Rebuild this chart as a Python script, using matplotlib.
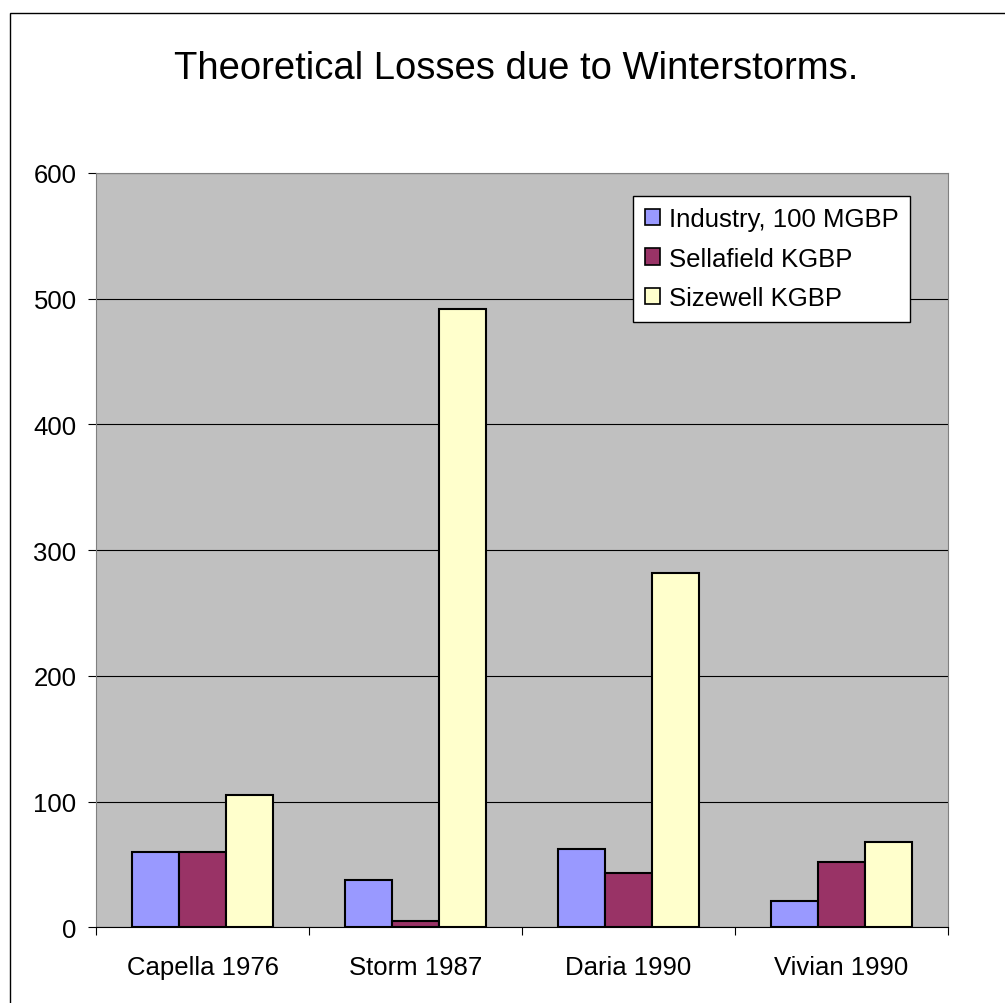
import matplotlib
matplotlib.use("Agg")
import matplotlib.pyplot as plt
from matplotlib.patches import Patch, Rectangle
import numpy as np

plt.rcParams['font.family'] = ['Liberation Sans', 'DejaVu Sans']

storms = ["Capella 1976", "Storm 1987", "Daria 1990", "Vivian 1990"]
industry = [60, 38, 62, 21]
sellafield = [60, 5, 43, 52]
sizewell = [105, 492, 282, 68]
series_names = ["Industry, 100 MGBP", "Sellafield KGBP", "Sizewell KGBP"]
series_colors = ["#9999FF", "#993366", "#FFFFCC"]
y_ticks = [0, 100, 200, 300, 400, 500, 600]

fig = plt.figure(figsize=(10.05, 10.04), dpi=100)
fig.patch.set_facecolor("white")

# outer chart frame, only top and left edges fall inside the image
fig.patches.append(Rectangle((10 / 1005, -0.1), 1.2, 1 - 14 / 1004 + 0.1,
                             transform=fig.transFigure, fill=False,
                             edgecolor="black", linewidth=1.0))

ax = fig.add_axes([96 / 1005, 1 - 928.3 / 1004, (948 - 96) / 1005, (928.3 - 174) / 1004])
ax.set_facecolor("#C0C0C0")

x = np.arange(len(storms))
w = 0.222
for i, (vals, col) in enumerate(zip([industry, sellafield, sizewell], series_colors)):
    ax.bar(x + (i - 1) * w, vals, width=w, color=col, edgecolor="black",
           linewidth=1.5, zorder=3)

ax.set_xlim(-0.5, len(storms) - 0.5)
ax.set_ylim(0, 600)
ax.set_yticks(y_ticks)
ax.yaxis.grid(True, color="black", linewidth=0.8, zorder=1)
ax.set_axisbelow(True)

ax.set_xticks(np.arange(-0.5, len(storms)), labels=[""] * (len(storms) + 1))
ax.set_xticks(x, labels=storms, minor=True)
ax.tick_params(axis="x", which="major", length=6, direction="out", color="black")
ax.tick_params(axis="x", which="minor", length=0, pad=20, labelsize=18.5)
ax.tick_params(axis="y", length=6, direction="out", pad=8, labelsize=18.5)

for side in ["left", "right", "top"]:
    ax.spines[side].set_color("#808080")
ax.spines["bottom"].set_color("black")

fig.text(516 / 1005, 1 - 79 / 1004, "Theoretical Losses due to Winterstorms.",
         ha="center", va="baseline", fontsize=27.5)

handles = [Patch(facecolor=c, edgecolor="black", linewidth=1.2) for c in series_colors]
leg = ax.legend(handles, series_names, loc="upper left",
                bbox_to_anchor=(633 / 1005, 1 - 196.7 / 1004),
                bbox_transform=fig.transFigure, borderaxespad=0,
                fontsize=18.5, handlelength=0.6, handleheight=0.6,
                handletextpad=0.35, labelspacing=0.6, borderpad=0.45,
                fancybox=False, framealpha=1)
leg.get_frame().set_edgecolor("black")
leg.get_frame().set_linewidth(1.0)

fig.savefig("out.png", dpi=100)
